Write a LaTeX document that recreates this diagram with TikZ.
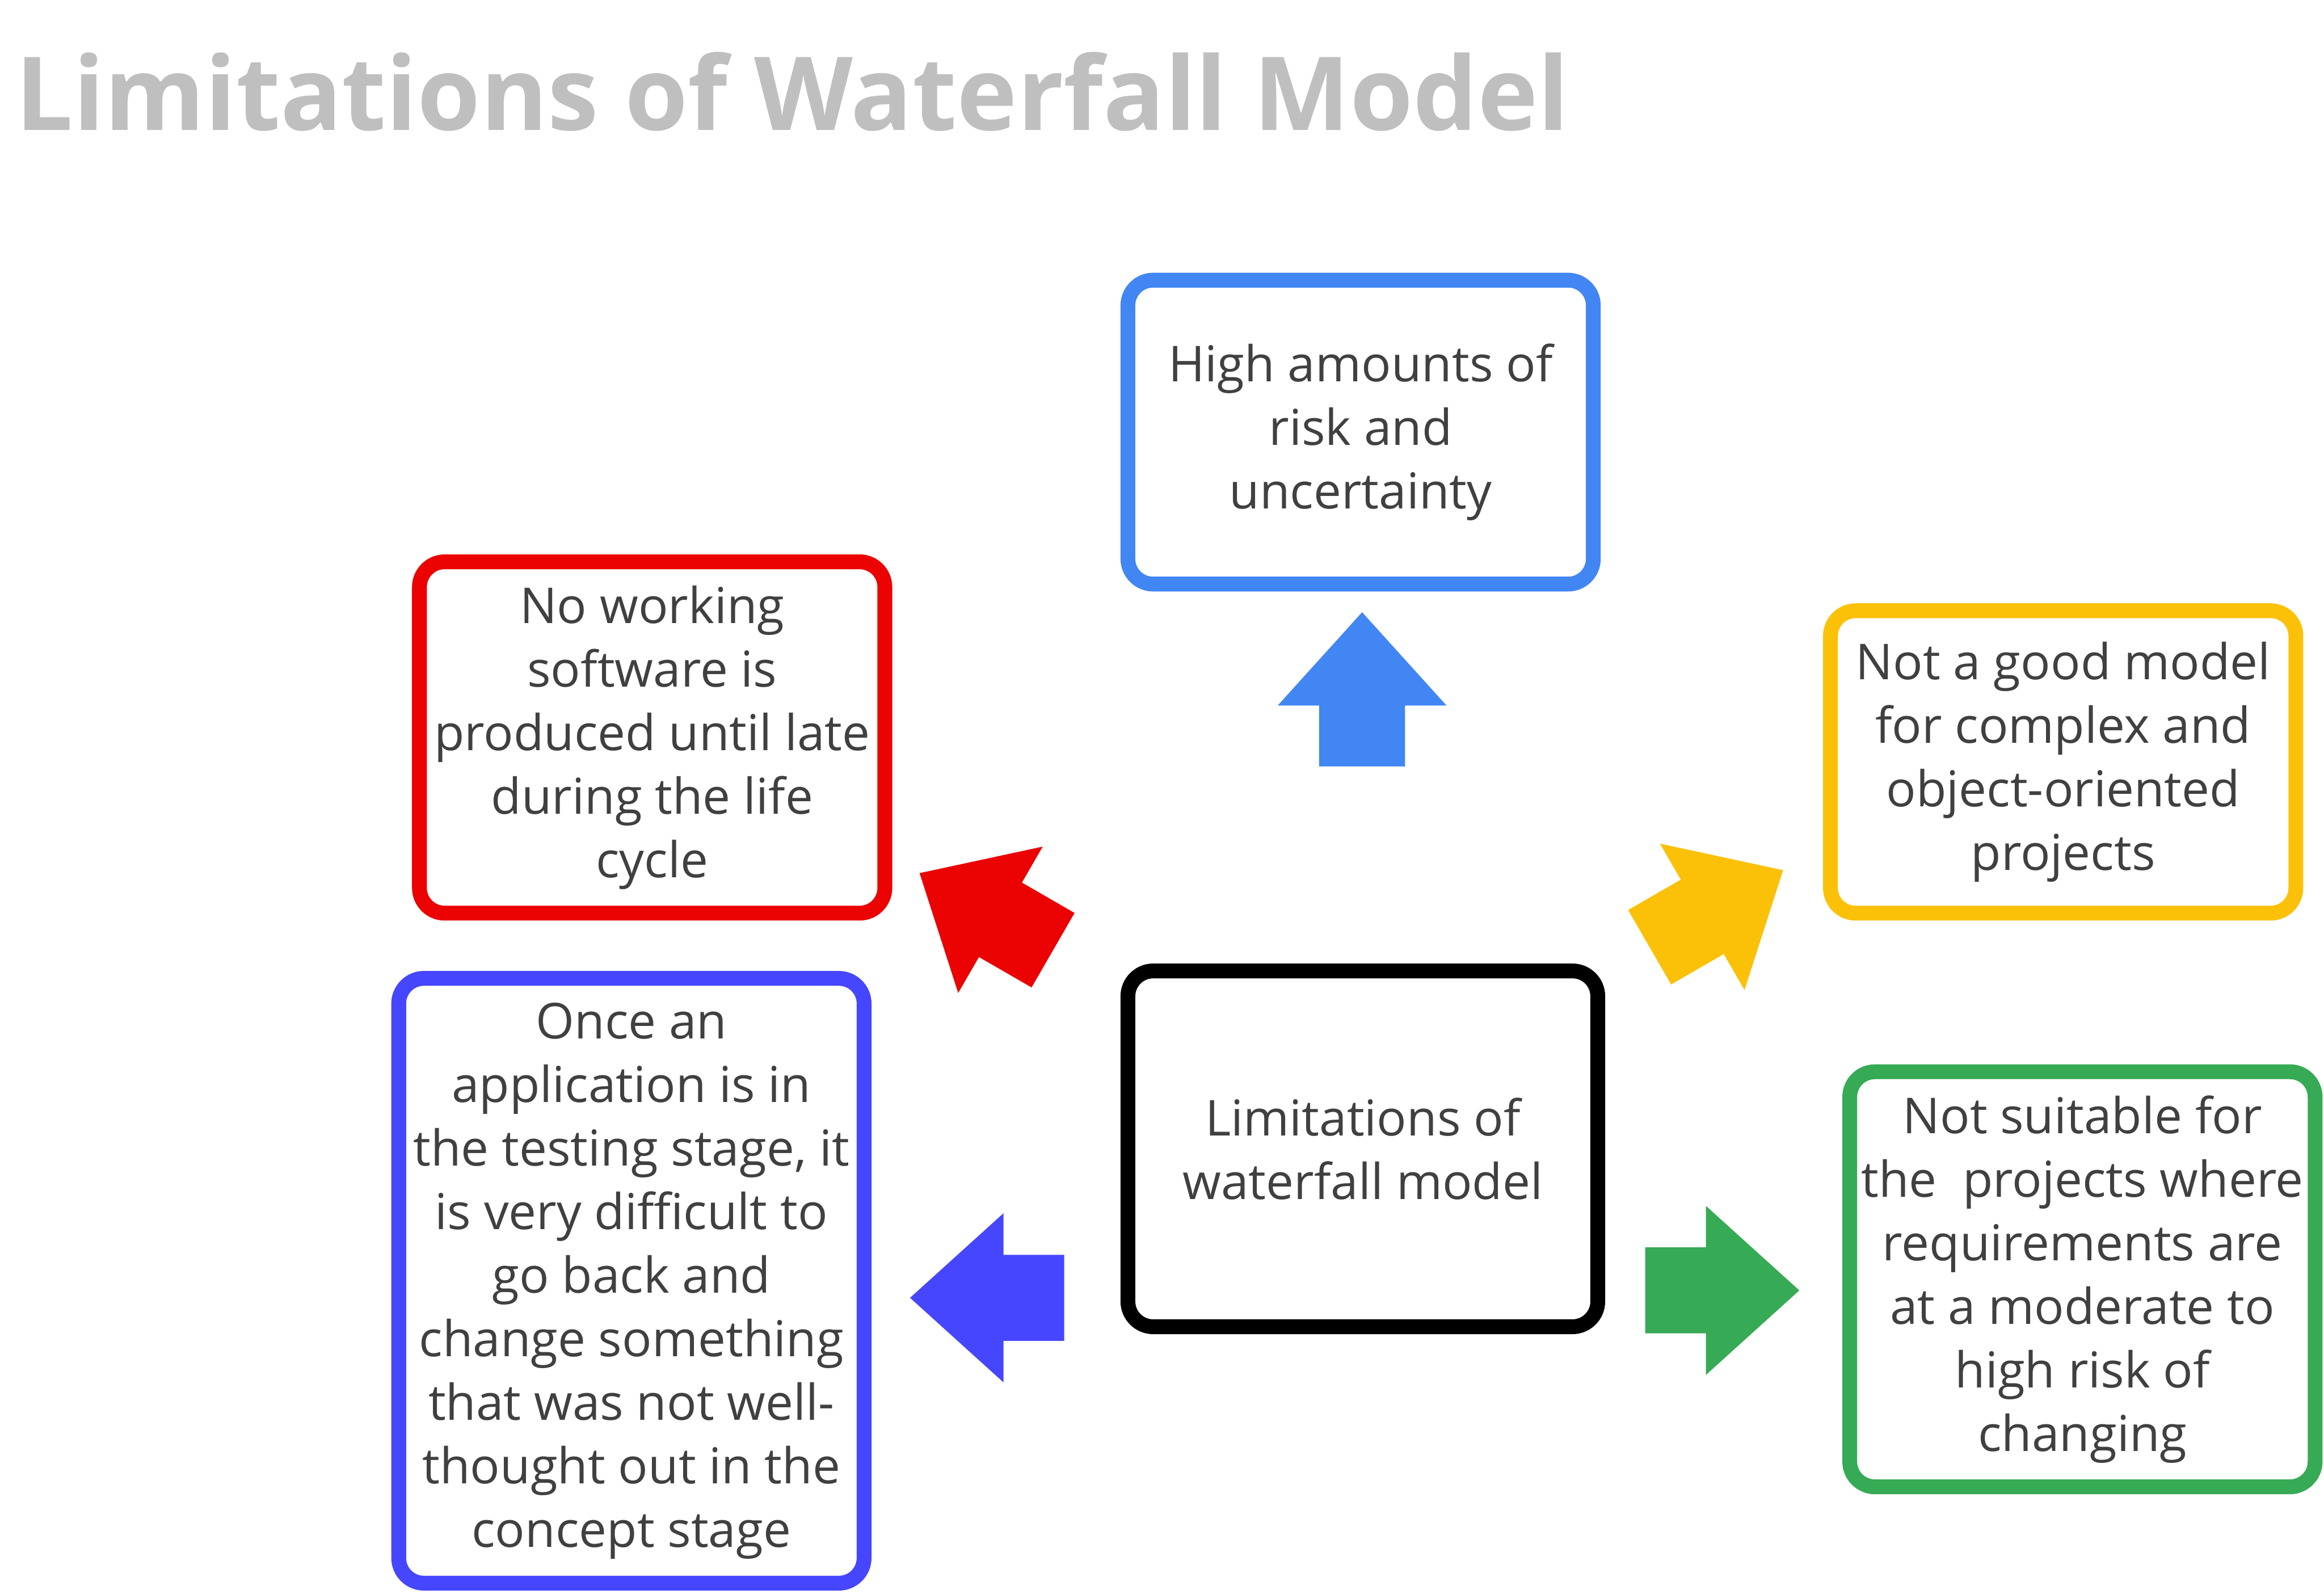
\documentclass[tikz,border=0pt]{standalone}
\usepackage{fontspec}
\setmainfont{Open Sans}
\usetikzlibrary{positioning}
\definecolor{wfblue}{RGB}{66,134,244}
\definecolor{wfred}{RGB}{235,2,2}
\definecolor{wfyellow}{RGB}{251,193,8}
\definecolor{wfgreen}{RGB}{54,170,84}
\definecolor{wfviolet}{RGB}{70,70,255}
\definecolor{wftext}{RGB}{64,64,64}
\definecolor{wftitle}{RGB}{191,191,191}
\tikzset{
  limbox/.style={draw, line width=1mm, rounded corners=1.7mm, minimum width=31.4mm,
    text=wftext, align=center, inner sep=0pt, font=\fontsize{9.5}{12.2}\selectfont},
  fatarrow/.pic={\path[pic actions] (0,-29) -- (41,-29) -- (41,-57) -- (104,0)
    -- (41,57) -- (41,29) -- (0,29) -- cycle;}
}

\begin{document}
\begin{tikzpicture}[x=0.1mm, y=-0.1mm]
\useasboundingbox (0,0) rectangle (1568,1075);
\node[anchor=base west, inner sep=0pt, text=wftitle, font=\bfseries\fontsize{19.6}{24}\selectfont] (title) at (10,88) {Limitations of Waterfall Model};

% boxes
\node[limbox, draw=black, minimum width=31.7mm, minimum height=24mm] (hub) at (919.5,775) {Limitations of\\waterfall model};
\node[limbox, draw=wfblue, minimum height=20.5mm] (risk) at (918,291.5) {High amounts of\\risk and\\uncertainty};
\node[limbox, draw=wfred, minimum height=23.7mm] (late) at (440,497.5) {No working\\software is\\produced until late\\during the life\\cycle};
\node[limbox, draw=wfyellow, minimum height=20.4mm] (complex) at (1392,514) {Not a good model\\for complex and\\object-oriented\\projects};
\node[limbox, draw=wfgreen, minimum height=28mm] (change) at (1405,863) {Not suitable for\\the \ projects where\\requirements are\\at a moderate to\\high risk of\\changing};
\node[limbox, draw=wfviolet, minimum height=40.8mm] (testing) at (426,864) {Once an\\application is in\\the testing stage, it\\is very difficult to\\go back and\\change something\\that was not well-\\thought out in the\\concept stage};

% arrows
\pic[fill=wfblue, rotate=90] (uparrow) at (919,517) {fatarrow};
\pic[fill=wfred, rotate=150] (redarrow) at (710.5,641) {fatarrow};
\pic[fill=wfyellow, rotate=30] (yellowarrow) at (1113,639) {fatarrow};
\pic[fill=wfgreen] (greenarrow) at (1110,870.5) {fatarrow};
\pic[fill=wfviolet, rotate=180] (violetarrow) at (718,875.5) {fatarrow};
\end{tikzpicture}
\end{document}
